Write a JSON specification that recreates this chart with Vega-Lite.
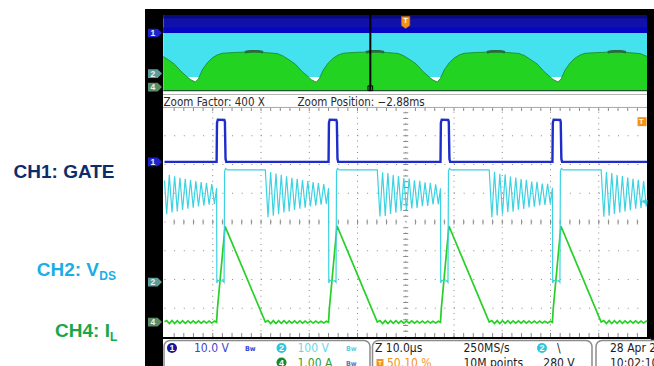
{
"$schema":"https://vega.github.io/schema/vega-lite/v6.json",
"width":654,"height":366,"padding":0,"autosize":{"type":"none"},
"background":"#ffffff",
"config":{"view":{"stroke":null},"text":{"font":"Liberation Sans Narrow, DejaVu Sans Condensed, Liberation Sans, sans-serif"}},
"resolve":{"scale":{"x":"independent","y":"independent","color":"independent","shape":"independent"}},
"datasets":{
"gate":[{"t":-50,"v":2.09},{"t":-39.2,"v":2.09},{"t":-39.12,"v":3.45},{"t":-38.95,"v":3.56},{"t":-37.6,"v":3.55},{"t":-37.48,"v":3.48},{"t":-37.35,"v":2.2},{"t":-37.2,"v":2.09},
{"t":-16.0,"v":2.09},{"t":-15.92,"v":3.45},{"t":-15.75,"v":3.56},{"t":-14.4,"v":3.55},{"t":-14.28,"v":3.48},{"t":-14.15,"v":2.2},{"t":-14.0,"v":2.09},
{"t":7.2,"v":2.09},{"t":7.28,"v":3.45},{"t":7.45,"v":3.56},{"t":8.8,"v":3.55},{"t":8.92,"v":3.48},{"t":9.05,"v":2.2},{"t":9.2,"v":2.09},
{"t":30.4,"v":2.09},{"t":30.48,"v":3.45},{"t":30.65,"v":3.56},{"t":32.0,"v":3.55},{"t":32.12,"v":3.48},{"t":32.25,"v":2.2},{"t":32.4,"v":2.09},{"t":50,"v":2.09}],
"vds":[{"t":-50,"v":1.44},{"t":-49.55,"v":0.27},{"t":-49.0,"v":1.64},{"t":-48.45,"v":0.33},{"t":-47.9,"v":1.59},{"t":-47.35,"v":0.37},{"t":-46.8,"v":1.54},{"t":-46.25,"v":0.42},{"t":-45.7,"v":1.5},{"t":-45.15,"v":0.46},{"t":-44.6,"v":1.46},{"t":-44.05,"v":0.5},{"t":-43.5,"v":1.42},{"t":-42.95,"v":0.54},{"t":-42.4,"v":1.39},{"t":-41.85,"v":0.57},{"t":-41.3,"v":1.35},{"t":-40.75,"v":0.6},{"t":-40.2,"v":1.32},{"t":-39.65,"v":0.63},{"t":-39.2,"v":1.18},
{"t":-39.15,"v":-2.12},{"t":-38.9,"v":-2.03},{"t":-38.4,"v":-2.06},{"t":-37.9,"v":-2.04},{"t":-37.65,"v":-2.1},{"t":-37.55,"v":1.76},{"t":-37.35,"v":1.86},{"t":-36.95,"v":1.81},{"t":-29.1,"v":1.81},
{"t":-28.55,"v":0.17},{"t":-28.0,"v":1.74},{"t":-27.45,"v":0.22},{"t":-26.9,"v":1.69},{"t":-26.35,"v":0.27},{"t":-25.8,"v":1.64},{"t":-25.25,"v":0.33},{"t":-24.7,"v":1.59},{"t":-24.15,"v":0.37},{"t":-23.6,"v":1.54},{"t":-23.05,"v":0.42},{"t":-22.5,"v":1.5},{"t":-21.95,"v":0.46},{"t":-21.4,"v":1.46},{"t":-20.85,"v":0.5},{"t":-20.3,"v":1.42},{"t":-19.75,"v":0.54},{"t":-19.2,"v":1.39},{"t":-18.65,"v":0.57},{"t":-18.1,"v":1.35},{"t":-17.55,"v":0.6},{"t":-17.0,"v":1.32},{"t":-16.45,"v":0.63},{"t":-16.0,"v":1.18},
{"t":-15.95,"v":-2.12},{"t":-15.7,"v":-2.03},{"t":-15.2,"v":-2.06},{"t":-14.7,"v":-2.04},{"t":-14.45,"v":-2.1},{"t":-14.35,"v":1.76},{"t":-14.15,"v":1.86},{"t":-13.75,"v":1.81},{"t":-5.9,"v":1.81},
{"t":-5.35,"v":0.19},{"t":-4.8,"v":1.73},{"t":-4.25,"v":0.21},{"t":-3.7,"v":1.7},{"t":-3.15,"v":0.28},{"t":-2.6,"v":1.63},{"t":-2.05,"v":0.32},{"t":-1.5,"v":1.6},{"t":-0.95,"v":0.38},{"t":-0.4,"v":1.53},{"t":0.15,"v":0.41},{"t":0.7,"v":1.51},{"t":1.25,"v":0.47},{"t":1.8,"v":1.45},{"t":2.35,"v":0.49},{"t":2.9,"v":1.43},{"t":3.45,"v":0.55},{"t":4.0,"v":1.38},{"t":4.55,"v":0.56},{"t":5.1,"v":1.36},{"t":5.65,"v":0.61},{"t":6.2,"v":1.31},{"t":6.75,"v":0.62},{"t":7.2,"v":1.17},
{"t":7.25,"v":-2.12},{"t":7.5,"v":-2.03},{"t":8.0,"v":-2.06},{"t":8.5,"v":-2.04},{"t":8.75,"v":-2.1},{"t":8.85,"v":1.76},{"t":9.05,"v":1.86},{"t":9.45,"v":1.81},{"t":17.3,"v":1.81},
{"t":17.85,"v":0.16},{"t":18.4,"v":1.75},{"t":18.95,"v":0.23},{"t":19.5,"v":1.68},{"t":20.05,"v":0.26},{"t":20.6,"v":1.65},{"t":21.15,"v":0.34},{"t":21.7,"v":1.58},{"t":22.25,"v":0.36},{"t":22.8,"v":1.55},{"t":23.35,"v":0.43},{"t":23.9,"v":1.49},{"t":24.45,"v":0.45},{"t":25.0,"v":1.47},{"t":25.55,"v":0.51},{"t":26.1,"v":1.41},{"t":26.65,"v":0.53},{"t":27.2,"v":1.4},{"t":27.75,"v":0.58},{"t":28.3,"v":1.34},{"t":28.85,"v":0.59},{"t":29.4,"v":1.33},{"t":29.95,"v":0.64},{"t":30.4,"v":1.19},
{"t":30.45,"v":-2.12},{"t":30.7,"v":-2.03},{"t":31.2,"v":-2.06},{"t":31.7,"v":-2.04},{"t":31.95,"v":-2.1},{"t":32.05,"v":1.76},{"t":32.25,"v":1.86},{"t":32.65,"v":1.81},{"t":40.5,"v":1.81},
{"t":41.05,"v":0.18},{"t":41.6,"v":1.74},{"t":42.15,"v":0.22},{"t":42.7,"v":1.7},{"t":43.25,"v":0.28},{"t":43.8,"v":1.63},{"t":44.35,"v":0.32},{"t":44.9,"v":1.6},{"t":45.45,"v":0.37},{"t":46.0,"v":1.55},{"t":46.55,"v":0.41},{"t":47.1,"v":1.5},{"t":47.65,"v":0.46},{"t":48.2,"v":1.47},{"t":48.75,"v":0.49},{"t":49.3,"v":1.42},{"t":49.85,"v":0.54},{"t":50.0,"v":0.77}],
"il":[{"t":-50,"v":-3.47},{"t":-49.55,"v":-3.43},{"t":-49.0,"v":-3.53},{"t":-48.45,"v":-3.43},{"t":-47.9,"v":-3.53},{"t":-47.35,"v":-3.435},{"t":-46.8,"v":-3.525},{"t":-46.25,"v":-3.435},{"t":-45.7,"v":-3.525},{"t":-45.15,"v":-3.44},{"t":-44.6,"v":-3.52},{"t":-44.05,"v":-3.44},{"t":-43.5,"v":-3.52},{"t":-42.95,"v":-3.44},{"t":-42.4,"v":-3.52},{"t":-41.85,"v":-3.445},{"t":-41.3,"v":-3.515},{"t":-40.75,"v":-3.445},{"t":-40.2,"v":-3.515},{"t":-39.65,"v":-3.445},
{"t":-39.2,"v":-3.49},{"t":-39.05,"v":-3.05},{"t":-37.45,"v":-0.15},{"t":-29.1,"v":-3.48},
{"t":-28.55,"v":-3.43},{"t":-28.0,"v":-3.53},{"t":-27.45,"v":-3.43},{"t":-26.9,"v":-3.53},{"t":-26.35,"v":-3.435},{"t":-25.8,"v":-3.525},{"t":-25.25,"v":-3.435},{"t":-24.7,"v":-3.525},{"t":-24.15,"v":-3.44},{"t":-23.6,"v":-3.52},{"t":-23.05,"v":-3.44},{"t":-22.5,"v":-3.52},{"t":-21.95,"v":-3.44},{"t":-21.4,"v":-3.52},{"t":-20.85,"v":-3.445},{"t":-20.3,"v":-3.515},{"t":-19.75,"v":-3.445},{"t":-19.2,"v":-3.515},{"t":-18.65,"v":-3.445},{"t":-18.1,"v":-3.515},{"t":-17.55,"v":-3.45},{"t":-17.0,"v":-3.51},{"t":-16.45,"v":-3.45},
{"t":-16.0,"v":-3.49},{"t":-15.85,"v":-3.05},{"t":-14.25,"v":-0.13},{"t":-5.9,"v":-3.48},
{"t":-5.35,"v":-3.43},{"t":-4.8,"v":-3.53},{"t":-4.25,"v":-3.43},{"t":-3.7,"v":-3.53},{"t":-3.15,"v":-3.435},{"t":-2.6,"v":-3.525},{"t":-2.05,"v":-3.435},{"t":-1.5,"v":-3.525},{"t":-0.95,"v":-3.44},{"t":-0.4,"v":-3.52},{"t":0.15,"v":-3.44},{"t":0.7,"v":-3.52},{"t":1.25,"v":-3.44},{"t":1.8,"v":-3.52},{"t":2.35,"v":-3.445},{"t":2.9,"v":-3.515},{"t":3.45,"v":-3.445},{"t":4.0,"v":-3.515},{"t":4.55,"v":-3.445},{"t":5.1,"v":-3.515},{"t":5.65,"v":-3.45},{"t":6.2,"v":-3.51},{"t":6.75,"v":-3.45},
{"t":7.2,"v":-3.49},{"t":7.35,"v":-3.05},{"t":8.95,"v":-0.14},{"t":17.3,"v":-3.48},
{"t":17.85,"v":-3.43},{"t":18.4,"v":-3.53},{"t":18.95,"v":-3.43},{"t":19.5,"v":-3.53},{"t":20.05,"v":-3.435},{"t":20.6,"v":-3.525},{"t":21.15,"v":-3.435},{"t":21.7,"v":-3.525},{"t":22.25,"v":-3.44},{"t":22.8,"v":-3.52},{"t":23.35,"v":-3.44},{"t":23.9,"v":-3.52},{"t":24.45,"v":-3.44},{"t":25.0,"v":-3.52},{"t":25.55,"v":-3.445},{"t":26.1,"v":-3.515},{"t":26.65,"v":-3.445},{"t":27.2,"v":-3.515},{"t":27.75,"v":-3.445},{"t":28.3,"v":-3.515},{"t":28.85,"v":-3.45},{"t":29.4,"v":-3.51},{"t":29.95,"v":-3.45},
{"t":30.4,"v":-3.49},{"t":30.55,"v":-3.05},{"t":32.15,"v":-0.14},{"t":40.5,"v":-3.48},
{"t":41.05,"v":-3.43},{"t":41.6,"v":-3.53},{"t":42.15,"v":-3.43},{"t":42.7,"v":-3.53},{"t":43.25,"v":-3.435},{"t":43.8,"v":-3.525},{"t":44.35,"v":-3.435},{"t":44.9,"v":-3.525},{"t":45.45,"v":-3.44},{"t":46.0,"v":-3.52},{"t":46.55,"v":-3.44},{"t":47.1,"v":-3.52},{"t":47.65,"v":-3.44},{"t":48.2,"v":-3.52},{"t":48.75,"v":-3.445},{"t":49.3,"v":-3.515},{"t":49.85,"v":-3.445},{"t":50,"v":-3.47}],
"ovIL":[{"ms":-20,"top":-0.34},{"ms":-19.57,"top":-0.68},{"ms":-19.08,"top":-1.12},{"ms":-18.5,"top":-1.9},{"ms":-18.09,"top":-2.36},{"ms":-17.76,"top":-2.7},{"ms":-17.35,"top":-2.97},{"ms":-17.1,"top":-2.64},{"ms":-16.77,"top":-1.7},{"ms":-16.36,"top":-0.98},{"ms":-15.94,"top":-0.47},{"ms":-15.53,"top":-0.16},{"ms":-15.12,"top":0.0},{"ms":-14.04,"top":0.09},{"ms":-12.8,"top":0.14},{"ms":-11.56,"top":0.07},{"ms":-10.57,"top":-0.03},{"ms":-10.07,"top":-0.3},{"ms":-9.57,"top":-0.7},{"ms":-9.08,"top":-1.12},{"ms":-8.5,"top":-1.9},{"ms":-8.09,"top":-2.33},{"ms":-7.76,"top":-2.72},
{"ms":-7.35,"top":-2.98},{"ms":-7.1,"top":-2.62},{"ms":-6.77,"top":-1.73},{"ms":-6.36,"top":-1.0},{"ms":-5.94,"top":-0.5},{"ms":-5.53,"top":-0.17},{"ms":-5.12,"top":0.01},{"ms":-4.04,"top":0.1},{"ms":-2.8,"top":0.14},{"ms":-1.56,"top":0.08},{"ms":-0.57,"top":-0.02},{"ms":-0.07,"top":-0.29},{"ms":0.43,"top":-0.69},{"ms":0.92,"top":-1.11},{"ms":1.5,"top":-1.91},{"ms":1.91,"top":-2.35},{"ms":2.24,"top":-2.71},
{"ms":2.65,"top":-2.96},{"ms":2.9,"top":-2.63},{"ms":3.23,"top":-1.71},{"ms":3.64,"top":-0.99},{"ms":4.06,"top":-0.48},{"ms":4.47,"top":-0.17},{"ms":4.88,"top":0.0},{"ms":5.96,"top":0.09},{"ms":7.2,"top":0.13},{"ms":8.44,"top":0.08},{"ms":9.43,"top":-0.02},{"ms":9.93,"top":-0.28},{"ms":10.43,"top":-0.7},{"ms":10.92,"top":-1.1},{"ms":11.5,"top":-1.89},{"ms":11.91,"top":-2.34},{"ms":12.24,"top":-2.7},
{"ms":12.65,"top":-2.97},{"ms":12.9,"top":-2.64},{"ms":13.23,"top":-1.72},{"ms":13.64,"top":-1.0},{"ms":14.06,"top":-0.49},{"ms":14.47,"top":-0.18},{"ms":14.88,"top":0.0},{"ms":15.96,"top":0.08},{"ms":17.2,"top":0.13},{"ms":18.44,"top":0.07},{"ms":19.43,"top":-0.03},{"ms":19.93,"top":-0.29},{"ms":20,"top":-0.34}],
"crest":[{"hump":1,"ms":-13.25,"v":0.1},{"hump":1,"ms":-12.8,"v":0.2},{"hump":1,"ms":-12.2,"v":0.21},{"hump":1,"ms":-11.75,"v":0.1},
{"hump":2,"ms":-3.25,"v":0.1},{"hump":2,"ms":-2.8,"v":0.2},{"hump":2,"ms":-2.2,"v":0.21},{"hump":2,"ms":-1.75,"v":0.1},
{"hump":3,"ms":6.75,"v":0.1},{"hump":3,"ms":7.2,"v":0.2},{"hump":3,"ms":7.8,"v":0.21},{"hump":3,"ms":8.25,"v":0.1},
{"hump":4,"ms":16.75,"v":0.1},{"hump":4,"ms":17.2,"v":0.2},{"hump":4,"ms":17.8,"v":0.21},{"hump":4,"ms":18.25,"v":0.1}],
"divT":[{"t":-40},{"t":-30},{"t":-20},{"t":-10},{"t":0},{"t":10},{"t":20},{"t":30},{"t":40}],
"divV":[{"v":-3},{"v":-2},{"v":-1},{"v":0},{"v":1},{"v":2},{"v":3}],
"tickT":[{"t":-48},{"t":-46},{"t":-44},{"t":-42},{"t":-40},{"t":-38},{"t":-36},{"t":-34},{"t":-32},{"t":-30},{"t":-28},{"t":-26},{"t":-24},{"t":-22},{"t":-20},{"t":-18},{"t":-16},{"t":-14},{"t":-12},{"t":-10},{"t":-8},{"t":-6},{"t":-4},{"t":-2},{"t":2},{"t":4},{"t":6},{"t":8},{"t":10},{"t":12},{"t":14},{"t":16},{"t":18},{"t":20},{"t":22},{"t":24},{"t":26},{"t":28},{"t":30},{"t":32},{"t":34},{"t":36},{"t":38},{"t":40},{"t":42},{"t":44},{"t":46},{"t":48}],
"tickV":[{"v":-3.8},{"v":-3.6},{"v":-3.4},{"v":-3.2},{"v":-3.0},{"v":-2.8},{"v":-2.6},{"v":-2.4},{"v":-2.2},{"v":-2.0},{"v":-1.8},{"v":-1.6},{"v":-1.4},{"v":-1.2},{"v":-1.0},{"v":-0.8},{"v":-0.6},{"v":-0.4},{"v":-0.2},{"v":0.2},{"v":0.4},{"v":0.6},{"v":0.8},{"v":1.0},{"v":1.2},{"v":1.4},{"v":1.6},{"v":1.8},{"v":2.0},{"v":2.2},{"v":2.4},{"v":2.6},{"v":2.8},{"v":3.0},{"v":3.2},{"v":3.4},{"v":3.6},{"v":3.8}],
"chan":[{"ch":"1","lvl":2.09},{"ch":"2","lvl":-2.09},{"ch":"4","lvl":-3.48}]
},
"layer":[
{"data":{"values":[{}]},"mark":{"type":"rect","fill":"#000000"},"encoding":{"x":{"datum":-54.04,"type":"quantitative","scale":{"domain":[-50,50],"range":[164.5,647],"nice":false,"zero":false},"axis":null},"x2":{"datum":51.6},"y":{"datum":-5.2,"type":"quantitative","scale":{"domain":[-4,4],"range":[337,107],"nice":false,"zero":false},"axis":null},"y2":{"datum":7.41}}},
{"data":{"values":[{}]},"mark":{"type":"rect","fill":"#ffffff"},"encoding":{"x":{"datum":-50.31,"type":"quantitative","scale":{"domain":[-50,50],"range":[164.5,647],"nice":false,"zero":false},"axis":null},"x2":{"datum":50.0},"y":{"datum":-4.0,"type":"quantitative","scale":{"domain":[-4,4],"range":[337,107],"nice":false,"zero":false},"axis":null},"y2":{"datum":7.2}}},
{"data":{"values":[{}]},"mark":{"type":"rect","fill":"#ffffff"},"encoding":{"x":{"datum":-50.31,"type":"quantitative","scale":{"domain":[-50,50],"range":[164.5,647],"nice":false,"zero":false},"axis":null},"x2":{"datum":50.8},"y":{"datum":-5.2,"type":"quantitative","scale":{"domain":[-4,4],"range":[337,107],"nice":false,"zero":false},"axis":null},"y2":{"datum":-4.0}}},

{"data":{"values":[{}]},"mark":{"type":"rect","fill":"#1010aa"},"encoding":{"x":{"datum":-20,"type":"quantitative","scale":{"domain":[-20,20],"range":[163.3,647],"nice":false,"zero":false},"axis":null},"x2":{"datum":20},"y":{"datum":2.08,"type":"quantitative","scale":{"domain":[-4,4],"range":[92.1,14.5],"nice":false,"zero":false},"axis":null},"y2":{"datum":3.95}}},
{"data":{"values":[{}]},"mark":{"type":"rect","fill":"#0a0a80"},"encoding":{"x":{"datum":-20,"type":"quantitative","scale":{"domain":[-20,20],"range":[163.3,647],"nice":false,"zero":false},"axis":null},"x2":{"datum":20},"y":{"datum":3.6,"type":"quantitative","scale":{"domain":[-4,4],"range":[92.1,14.5],"nice":false,"zero":false},"axis":null},"y2":{"datum":3.95}}},
{"data":{"values":[{}]},"mark":{"type":"rect","fill":"#0404c2"},"encoding":{"x":{"datum":-20,"type":"quantitative","scale":{"domain":[-20,20],"range":[163.3,647],"nice":false,"zero":false},"axis":null},"x2":{"datum":20},"y":{"datum":2.08,"type":"quantitative","scale":{"domain":[-4,4],"range":[92.1,14.5],"nice":false,"zero":false},"axis":null},"y2":{"datum":2.65}}},
{"data":{"values":[{}]},"mark":{"type":"rect","fill":"#44e1ef"},"encoding":{"x":{"datum":-20,"type":"quantitative","scale":{"domain":[-20,20],"range":[163.3,647],"nice":false,"zero":false},"axis":null},"x2":{"datum":20},"y":{"datum":-2.45,"type":"quantitative","scale":{"domain":[-4,4],"range":[92.1,14.5],"nice":false,"zero":false},"axis":null},"y2":{"datum":2.09}}},
{"data":{"name":"ovIL"},"mark":{"type":"area","color":"#22d322","opacity":1},"encoding":{"x":{"field":"ms","type":"quantitative","scale":{"domain":[-20,20],"range":[163.3,647],"nice":false,"zero":false},"axis":null},"y":{"field":"top","type":"quantitative","scale":{"domain":[-4,4],"range":[92.1,14.5],"nice":false,"zero":false},"axis":null},"y2":{"datum":-3.85}}},
{"data":{"name":"ovIL"},"mark":{"type":"line","color":"#1a8f2e","strokeWidth":0.9},"encoding":{"x":{"field":"ms","type":"quantitative","scale":{"domain":[-20,20],"range":[163.3,647],"nice":false,"zero":false},"axis":null},"y":{"field":"top","type":"quantitative","scale":{"domain":[-4,4],"range":[92.1,14.5],"nice":false,"zero":false},"axis":null}}},
{"data":{"name":"crest"},"mark":{"type":"line","color":"#2a6b3e","strokeWidth":2.6,"interpolate":"monotone"},"encoding":{"x":{"field":"ms","type":"quantitative","scale":{"domain":[-20,20],"range":[163.3,647],"nice":false,"zero":false},"axis":null},"y":{"field":"v","type":"quantitative","scale":{"domain":[-4,4],"range":[92.1,14.5],"nice":false,"zero":false},"axis":null},"detail":{"field":"hump","type":"nominal"}}},
{"data":{"values":[{}]},"mark":{"type":"rule","color":"#1d5a2c","strokeWidth":1.3},"encoding":{"x":{"datum":-20,"type":"quantitative","scale":{"domain":[-20,20],"range":[163.3,647],"nice":false,"zero":false},"axis":null},"x2":{"datum":20},"y":{"datum":-3.85,"type":"quantitative","scale":{"domain":[-4,4],"range":[92.1,14.5],"nice":false,"zero":false},"axis":null}}},
{"data":{"values":[{}]},"mark":{"type":"rule","color":"#000000","strokeWidth":2},"encoding":{"x":{"datum":-2.88,"type":"quantitative","scale":{"domain":[-20,20],"range":[163.3,647],"nice":false,"zero":false},"axis":null},"y":{"datum":-3.9,"type":"quantitative","scale":{"domain":[-4,4],"range":[92.1,14.5],"nice":false,"zero":false},"axis":null},"y2":{"datum":3.95}}},
{"data":{"values":[{}]},"mark":{"type":"point","shape":"square","size":22,"filled":false,"stroke":"#000000","strokeWidth":1,"opacity":1},"encoding":{"x":{"datum":-2.88,"type":"quantitative","scale":{"domain":[-20,20],"range":[163.3,647],"nice":false,"zero":false},"axis":null},"y":{"datum":-3.6,"type":"quantitative","scale":{"domain":[-4,4],"range":[92.1,14.5],"nice":false,"zero":false},"axis":null}}},
{"data":{"values":[{}]},"mark":{"type":"point","shape":"M-0.7,-1L0.7,-1L0.7,0.5L0,1L-0.7,0.5Z","size":144,"filled":true,"fill":"#f29418","stroke":"#b86a00","strokeWidth":0.6,"opacity":1},"encoding":{"x":{"datum":0.04,"type":"quantitative","scale":{"domain":[-20,20],"range":[163.3,647],"nice":false,"zero":false},"axis":null},"y":{"datum":3.18,"type":"quantitative","scale":{"domain":[-4,4],"range":[92.1,14.5],"nice":false,"zero":false},"axis":null}}},
{"data":{"values":[{}]},"mark":{"type":"text","text":"T","fontSize":7,"fontWeight":"bold","color":"#ffffff","align":"center","baseline":"middle","font":"Liberation Sans"},"encoding":{"x":{"datum":0.04,"type":"quantitative","scale":{"domain":[-20,20],"range":[163.3,647],"nice":false,"zero":false},"axis":null},"y":{"datum":3.3,"type":"quantitative","scale":{"domain":[-4,4],"range":[92.1,14.5],"nice":false,"zero":false},"axis":null}}},
{"data":{"name":"chan"},"mark":{"type":"point","shape":"M-1,-0.62L0.38,-0.62L1,0L0.38,0.62L-1,0.62Z","size":196,"filled":true,"opacity":1},"encoding":{"x":{"datum":-51.97,"type":"quantitative","scale":{"domain":[-50,50],"range":[164.5,647],"nice":false,"zero":false},"axis":null},"y":{"field":"lvl","type":"quantitative","scale":{"domain":[-4,4],"range":[92.1,14.5],"nice":false,"zero":false},"axis":null},"color":{"field":"ch","type":"nominal","scale":{"domain":["1","2","4"],"range":["#2222cc","#5e9c9a","#5a8c68"]},"legend":null}}},
{"data":{"name":"chan"},"mark":{"type":"text","fontSize":8.5,"fontWeight":"bold","color":"#e8f0ee","align":"center","baseline":"middle","font":"Liberation Sans"},"encoding":{"x":{"datum":-52.4,"type":"quantitative","scale":{"domain":[-50,50],"range":[164.5,647],"nice":false,"zero":false},"axis":null},"y":{"field":"lvl","type":"quantitative","scale":{"domain":[-4,4],"range":[92.1,14.5],"nice":false,"zero":false},"axis":null},"text":{"field":"ch"}}},

{"data":{"values":[{}]},"mark":{"type":"rule","color":"#b4b4b4","strokeWidth":1},"encoding":{"x":{"datum":-50.31,"type":"quantitative","scale":{"domain":[-50,50],"range":[164.5,647],"nice":false,"zero":false},"axis":null},"x2":{"datum":50},"y":{"datum":4.435,"type":"quantitative","scale":{"domain":[-4,4],"range":[337,107],"nice":false,"zero":false},"axis":null}}},
{"data":{"values":[{}]},"mark":{"type":"text","text":"Zoom Factor: 400 X","fontSize":11.5,"color":"#2a2a2a","align":"left","baseline":"alphabetic"},"encoding":{"x":{"datum":-50.2,"type":"quantitative","scale":{"domain":[-50,50],"range":[164.5,647],"nice":false,"zero":false},"axis":null},"y":{"datum":4.05,"type":"quantitative","scale":{"domain":[-4,4],"range":[337,107],"nice":false,"zero":false},"axis":null}}},
{"data":{"values":[{}]},"mark":{"type":"text","text":"Zoom Position: \u22122.88ms","fontSize":11.5,"color":"#2a2a2a","align":"left","baseline":"alphabetic"},"encoding":{"x":{"datum":-22.44,"type":"quantitative","scale":{"domain":[-50,50],"range":[164.5,647],"nice":false,"zero":false},"axis":null},"y":{"datum":4.05,"type":"quantitative","scale":{"domain":[-4,4],"range":[337,107],"nice":false,"zero":false},"axis":null}}},

{"data":{"name":"divT"},"mark":{"type":"rule","color":"#8a8a8a","strokeWidth":1,"strokeDash":[1,4.75]},"encoding":{"x":{"field":"t","type":"quantitative","scale":{"domain":[-50,50],"range":[164.5,647],"nice":false,"zero":false},"axis":null},"y":{"datum":-4,"type":"quantitative","scale":{"domain":[-4,4],"range":[337,107],"nice":false,"zero":false},"axis":null},"y2":{"datum":4}}},
{"data":{"name":"divV"},"mark":{"type":"rule","color":"#8a8a8a","strokeWidth":1,"strokeDash":[1,8.65]},"encoding":{"x":{"datum":-50,"type":"quantitative","scale":{"domain":[-50,50],"range":[164.5,647],"nice":false,"zero":false},"axis":null},"x2":{"datum":50},"y":{"field":"v","type":"quantitative","scale":{"domain":[-4,4],"range":[337,107],"nice":false,"zero":false},"axis":null}}},
{"data":{"name":"tickT"},"mark":{"type":"tick","orient":"vertical","size":5,"thickness":1,"color":"#8a8a8a","opacity":1},"encoding":{"x":{"field":"t","type":"quantitative","scale":{"domain":[-50,50],"range":[164.5,647],"nice":false,"zero":false},"axis":null},"y":{"datum":0,"type":"quantitative","scale":{"domain":[-4,4],"range":[337,107],"nice":false,"zero":false},"axis":null}}},
{"data":{"name":"tickT"},"mark":{"type":"tick","orient":"vertical","size":4,"thickness":1,"color":"#8a8a8a","opacity":1},"encoding":{"x":{"field":"t","type":"quantitative","scale":{"domain":[-50,50],"range":[164.5,647],"nice":false,"zero":false},"axis":null},"y":{"datum":3.93,"type":"quantitative","scale":{"domain":[-4,4],"range":[337,107],"nice":false,"zero":false},"axis":null}}},
{"data":{"name":"tickT"},"mark":{"type":"tick","orient":"vertical","size":4,"thickness":1,"color":"#8a8a8a","opacity":1},"encoding":{"x":{"field":"t","type":"quantitative","scale":{"domain":[-50,50],"range":[164.5,647],"nice":false,"zero":false},"axis":null},"y":{"datum":-3.93,"type":"quantitative","scale":{"domain":[-4,4],"range":[337,107],"nice":false,"zero":false},"axis":null}}},
{"data":{"name":"tickV"},"mark":{"type":"tick","orient":"horizontal","size":5,"thickness":1,"color":"#8a8a8a","opacity":1},"encoding":{"x":{"datum":0,"type":"quantitative","scale":{"domain":[-50,50],"range":[164.5,647],"nice":false,"zero":false},"axis":null},"y":{"field":"v","type":"quantitative","scale":{"domain":[-4,4],"range":[337,107],"nice":false,"zero":false},"axis":null}}},
{"data":{"values":[{}]},"mark":{"type":"rule","color":"#a8a8a8","strokeWidth":1},"encoding":{"x":{"datum":-50.31,"type":"quantitative","scale":{"domain":[-50,50],"range":[164.5,647],"nice":false,"zero":false},"axis":null},"x2":{"datum":50},"y":{"datum":3.985,"type":"quantitative","scale":{"domain":[-4,4],"range":[337,107],"nice":false,"zero":false},"axis":null}}},
{"data":{"values":[{}]},"mark":{"type":"rule","color":"#000000","strokeWidth":2},"encoding":{"x":{"datum":-50.31,"type":"quantitative","scale":{"domain":[-50,50],"range":[164.5,647],"nice":false,"zero":false},"axis":null},"x2":{"datum":50.8},"y":{"datum":-4.035,"type":"quantitative","scale":{"domain":[-4,4],"range":[337,107],"nice":false,"zero":false},"axis":null}}},

{"data":{"name":"il"},"mark":{"type":"line","color":"#26d026","strokeWidth":1.7},"encoding":{"x":{"field":"t","type":"quantitative","scale":{"domain":[-50,50],"range":[164.5,647],"nice":false,"zero":false},"axis":null},"y":{"field":"v","type":"quantitative","scale":{"domain":[-4,4],"range":[337,107],"nice":false,"zero":false},"axis":null}}},
{"data":{"name":"vds"},"mark":{"type":"line","color":"#3cd2e2","strokeWidth":1.2},"encoding":{"x":{"field":"t","type":"quantitative","scale":{"domain":[-50,50],"range":[164.5,647],"nice":false,"zero":false},"axis":null},"y":{"field":"v","type":"quantitative","scale":{"domain":[-4,4],"range":[337,107],"nice":false,"zero":false},"axis":null}}},
{"data":{"name":"gate"},"mark":{"type":"line","color":"#1e2ccc","strokeWidth":2.4},"encoding":{"x":{"field":"t","type":"quantitative","scale":{"domain":[-50,50],"range":[164.5,647],"nice":false,"zero":false},"axis":null},"y":{"field":"v","type":"quantitative","scale":{"domain":[-4,4],"range":[337,107],"nice":false,"zero":false},"axis":null}}},

{"data":{"name":"chan"},"mark":{"type":"point","shape":"M-1,-0.62L0.38,-0.62L1,0L0.38,0.62L-1,0.62Z","size":196,"filled":true,"opacity":1},"encoding":{"x":{"datum":-51.97,"type":"quantitative","scale":{"domain":[-50,50],"range":[164.5,647],"nice":false,"zero":false},"axis":null},"y":{"field":"lvl","type":"quantitative","scale":{"domain":[-4,4],"range":[337,107],"nice":false,"zero":false},"axis":null},"color":{"field":"ch","type":"nominal","scale":{"domain":["1","2","4"],"range":["#2222cc","#5e9c9a","#5a8c68"]},"legend":null}}},
{"data":{"name":"chan"},"mark":{"type":"text","fontSize":8.5,"fontWeight":"bold","color":"#e8f0ee","align":"center","baseline":"middle","font":"Liberation Sans"},"encoding":{"x":{"datum":-52.4,"type":"quantitative","scale":{"domain":[-50,50],"range":[164.5,647],"nice":false,"zero":false},"axis":null},"y":{"field":"lvl","type":"quantitative","scale":{"domain":[-4,4],"range":[337,107],"nice":false,"zero":false},"axis":null},"text":{"field":"ch"}}},
{"data":{"values":[{}]},"mark":{"type":"point","shape":"square","size":81,"filled":true,"fill":"#f29418","opacity":1},"encoding":{"x":{"datum":48.97,"type":"quantitative","scale":{"domain":[-50,50],"range":[164.5,647],"nice":false,"zero":false},"axis":null},"y":{"datum":3.49,"type":"quantitative","scale":{"domain":[-4,4],"range":[337,107],"nice":false,"zero":false},"axis":null}}},
{"data":{"values":[{}]},"mark":{"type":"text","text":"T","fontSize":7.5,"fontWeight":"bold","color":"#ffffff","align":"center","baseline":"middle","font":"Liberation Sans"},"encoding":{"x":{"datum":48.8,"type":"quantitative","scale":{"domain":[-50,50],"range":[164.5,647],"nice":false,"zero":false},"axis":null},"y":{"datum":3.49,"type":"quantitative","scale":{"domain":[-4,4],"range":[337,107],"nice":false,"zero":false},"axis":null}}},
{"data":{"values":[{}]},"mark":{"type":"point","shape":"triangle-left","size":30,"filled":true,"fill":"#3cd2e2","opacity":1},"encoding":{"x":{"datum":49.3,"type":"quantitative","scale":{"domain":[-50,50],"range":[164.5,647],"nice":false,"zero":false},"axis":null},"y":{"datum":0.71,"type":"quantitative","scale":{"domain":[-4,4],"range":[337,107],"nice":false,"zero":false},"axis":null}}},

{"data":{"values":[{}]},"mark":{"type":"rect","fill":"#ffffff","stroke":"#8c8c8c","strokeWidth":1.5,"cornerRadius":6},"encoding":{"x":{"datum":-50.1,"type":"quantitative","scale":{"domain":[-50,50],"range":[164.5,647],"nice":false,"zero":false},"axis":null},"x2":{"datum":-7.41},"y":{"datum":-5.3,"type":"quantitative","scale":{"domain":[-4,4],"range":[337,107],"nice":false,"zero":false},"axis":null},"y2":{"datum":-4.122}}},
{"data":{"values":[{}]},"mark":{"type":"rect","fill":"#ffffff","stroke":"#8c8c8c","strokeWidth":1.5,"cornerRadius":6},"encoding":{"x":{"datum":-6.89,"type":"quantitative","scale":{"domain":[-50,50],"range":[164.5,647],"nice":false,"zero":false},"axis":null},"x2":{"datum":38.6},"y":{"datum":-5.3,"type":"quantitative","scale":{"domain":[-4,4],"range":[337,107],"nice":false,"zero":false},"axis":null},"y2":{"datum":-4.122}}},
{"data":{"values":[{}]},"mark":{"type":"rect","fill":"#ffffff","stroke":"#8c8c8c","strokeWidth":1.5,"cornerRadius":6},"encoding":{"x":{"datum":39.43,"type":"quantitative","scale":{"domain":[-50,50],"range":[164.5,647],"nice":false,"zero":false},"axis":null},"x2":{"datum":62},"y":{"datum":-5.3,"type":"quantitative","scale":{"domain":[-4,4],"range":[337,107],"nice":false,"zero":false},"axis":null},"y2":{"datum":-4.122}}},
{"data":{"values":[{}]},"mark":{"type":"point","shape":"circle","size":100,"filled":true,"fill":"#1515a0","opacity":1},"encoding":{"x":{"datum":-48.45,"type":"quantitative","scale":{"domain":[-50,50],"range":[164.5,647],"nice":false,"zero":false},"axis":null},"y":{"datum":-4.383,"type":"quantitative","scale":{"domain":[-4,4],"range":[337,107],"nice":false,"zero":false},"axis":null}}},
{"data":{"values":[{}]},"mark":{"type":"point","shape":"circle","size":100,"filled":true,"fill":"#2cc6da","opacity":1},"encoding":{"x":{"datum":-25.75,"type":"quantitative","scale":{"domain":[-50,50],"range":[164.5,647],"nice":false,"zero":false},"axis":null},"y":{"datum":-4.383,"type":"quantitative","scale":{"domain":[-4,4],"range":[337,107],"nice":false,"zero":false},"axis":null}}},
{"data":{"values":[{}]},"mark":{"type":"point","shape":"circle","size":100,"filled":true,"fill":"#168a2a","opacity":1},"encoding":{"x":{"datum":-25.75,"type":"quantitative","scale":{"domain":[-50,50],"range":[164.5,647],"nice":false,"zero":false},"axis":null},"y":{"datum":-4.887,"type":"quantitative","scale":{"domain":[-4,4],"range":[337,107],"nice":false,"zero":false},"axis":null}}},
{"data":{"values":[{}]},"mark":{"type":"point","shape":"circle","size":100,"filled":true,"fill":"#2cc6da","opacity":1},"encoding":{"x":{"datum":28.24,"type":"quantitative","scale":{"domain":[-50,50],"range":[164.5,647],"nice":false,"zero":false},"axis":null},"y":{"datum":-4.383,"type":"quantitative","scale":{"domain":[-4,4],"range":[337,107],"nice":false,"zero":false},"axis":null}}},
{"data":{"values":[{}]},"mark":{"type":"point","shape":"square","size":49,"filled":true,"fill":"#f29418","opacity":1},"encoding":{"x":{"datum":-5.34,"type":"quantitative","scale":{"domain":[-50,50],"range":[164.5,647],"nice":false,"zero":false},"axis":null},"y":{"datum":-4.887,"type":"quantitative","scale":{"domain":[-4,4],"range":[337,107],"nice":false,"zero":false},"axis":null}}},
{"data":{"values":[{}]},"mark":{"type":"text","text":"1","fontSize":9,"fontWeight":"bold","color":"#ffffff","align":"center","baseline":"middle","font":"Liberation Sans"},"encoding":{"x":{"datum":-48.45,"type":"quantitative","scale":{"domain":[-50,50],"range":[164.5,647],"nice":false,"zero":false},"axis":null},"y":{"datum":-4.383,"type":"quantitative","scale":{"domain":[-4,4],"range":[337,107],"nice":false,"zero":false},"axis":null}}},
{"data":{"values":[{}]},"mark":{"type":"text","text":"2","fontSize":9,"fontWeight":"bold","color":"#ffffff","align":"center","baseline":"middle","font":"Liberation Sans"},"encoding":{"x":{"datum":-25.75,"type":"quantitative","scale":{"domain":[-50,50],"range":[164.5,647],"nice":false,"zero":false},"axis":null},"y":{"datum":-4.383,"type":"quantitative","scale":{"domain":[-4,4],"range":[337,107],"nice":false,"zero":false},"axis":null}}},
{"data":{"values":[{}]},"mark":{"type":"text","text":"4","fontSize":9,"fontWeight":"bold","color":"#ffffff","align":"center","baseline":"middle","font":"Liberation Sans"},"encoding":{"x":{"datum":-25.75,"type":"quantitative","scale":{"domain":[-50,50],"range":[164.5,647],"nice":false,"zero":false},"axis":null},"y":{"datum":-4.887,"type":"quantitative","scale":{"domain":[-4,4],"range":[337,107],"nice":false,"zero":false},"axis":null}}},
{"data":{"values":[{}]},"mark":{"type":"text","text":"2","fontSize":9,"fontWeight":"bold","color":"#ffffff","align":"center","baseline":"middle","font":"Liberation Sans"},"encoding":{"x":{"datum":28.24,"type":"quantitative","scale":{"domain":[-50,50],"range":[164.5,647],"nice":false,"zero":false},"axis":null},"y":{"datum":-4.383,"type":"quantitative","scale":{"domain":[-4,4],"range":[337,107],"nice":false,"zero":false},"axis":null}}},
{"data":{"values":[{}]},"mark":{"type":"text","text":"T","fontSize":6,"fontWeight":"bold","color":"#ffffff","align":"center","baseline":"middle","font":"Liberation Sans"},"encoding":{"x":{"datum":-5.34,"type":"quantitative","scale":{"domain":[-50,50],"range":[164.5,647],"nice":false,"zero":false},"axis":null},"y":{"datum":-4.887,"type":"quantitative","scale":{"domain":[-4,4],"range":[337,107],"nice":false,"zero":false},"axis":null}}},
{"data":{"values":[{}]},"mark":{"type":"text","text":"10.0 V","fontSize":12,"color":"#3b45d6","align":"left","baseline":"alphabetic"},"encoding":{"x":{"datum":-43.89,"type":"quantitative","scale":{"domain":[-50,50],"range":[164.5,647],"nice":false,"zero":false},"axis":null},"y":{"datum":-4.539,"type":"quantitative","scale":{"domain":[-4,4],"range":[337,107],"nice":false,"zero":false},"axis":null}}},
{"data":{"values":[{}]},"mark":{"type":"text","text":"Bw","fontSize":7,"fontWeight":"bold","color":"#3b45d6","align":"left","baseline":"alphabetic"},"encoding":{"x":{"datum":-33.32,"type":"quantitative","scale":{"domain":[-50,50],"range":[164.5,647],"nice":false,"zero":false},"axis":null},"y":{"datum":-4.5,"type":"quantitative","scale":{"domain":[-4,4],"range":[337,107],"nice":false,"zero":false},"axis":null}}},
{"data":{"values":[{}]},"mark":{"type":"text","text":"100 V","fontSize":12,"color":"#68d8e6","align":"left","baseline":"alphabetic"},"encoding":{"x":{"datum":-22.44,"type":"quantitative","scale":{"domain":[-50,50],"range":[164.5,647],"nice":false,"zero":false},"axis":null},"y":{"datum":-4.539,"type":"quantitative","scale":{"domain":[-4,4],"range":[337,107],"nice":false,"zero":false},"axis":null}}},
{"data":{"values":[{}]},"mark":{"type":"text","text":"Bw","fontSize":7,"fontWeight":"bold","color":"#5fcfe0","align":"left","baseline":"alphabetic"},"encoding":{"x":{"datum":-12.38,"type":"quantitative","scale":{"domain":[-50,50],"range":[164.5,647],"nice":false,"zero":false},"axis":null},"y":{"datum":-4.5,"type":"quantitative","scale":{"domain":[-4,4],"range":[337,107],"nice":false,"zero":false},"axis":null}}},
{"data":{"values":[{}]},"mark":{"type":"text","text":"1.00 A","fontSize":12,"color":"#2c9e35","align":"left","baseline":"alphabetic"},"encoding":{"x":{"datum":-22.44,"type":"quantitative","scale":{"domain":[-50,50],"range":[164.5,647],"nice":false,"zero":false},"axis":null},"y":{"datum":-5.043,"type":"quantitative","scale":{"domain":[-4,4],"range":[337,107],"nice":false,"zero":false},"axis":null}}},
{"data":{"values":[{}]},"mark":{"type":"text","text":"Bw","fontSize":7,"fontWeight":"bold","color":"#5a78c8","align":"left","baseline":"alphabetic"},"encoding":{"x":{"datum":-12.38,"type":"quantitative","scale":{"domain":[-50,50],"range":[164.5,647],"nice":false,"zero":false},"axis":null},"y":{"datum":-5.0,"type":"quantitative","scale":{"domain":[-4,4],"range":[337,107],"nice":false,"zero":false},"axis":null}}},
{"data":{"values":[{}]},"mark":{"type":"text","text":"Z 10.0\u00b5s","fontSize":12,"color":"#1c1c1c","align":"left","baseline":"alphabetic"},"encoding":{"x":{"datum":-6.37,"type":"quantitative","scale":{"domain":[-50,50],"range":[164.5,647],"nice":false,"zero":false},"axis":null},"y":{"datum":-4.539,"type":"quantitative","scale":{"domain":[-4,4],"range":[337,107],"nice":false,"zero":false},"axis":null}}},
{"data":{"values":[{}]},"mark":{"type":"text","text":"50.10 %","fontSize":12,"color":"#f29418","align":"left","baseline":"alphabetic"},"encoding":{"x":{"datum":-3.89,"type":"quantitative","scale":{"domain":[-50,50],"range":[164.5,647],"nice":false,"zero":false},"axis":null},"y":{"datum":-5.043,"type":"quantitative","scale":{"domain":[-4,4],"range":[337,107],"nice":false,"zero":false},"axis":null}}},
{"data":{"values":[{}]},"mark":{"type":"text","text":"250MS/s","fontSize":12,"color":"#1c1c1c","align":"left","baseline":"alphabetic"},"encoding":{"x":{"datum":11.97,"type":"quantitative","scale":{"domain":[-50,50],"range":[164.5,647],"nice":false,"zero":false},"axis":null},"y":{"datum":-4.539,"type":"quantitative","scale":{"domain":[-4,4],"range":[337,107],"nice":false,"zero":false},"axis":null}}},
{"data":{"values":[{}]},"mark":{"type":"text","text":"10M points","fontSize":12,"color":"#1c1c1c","align":"left","baseline":"alphabetic"},"encoding":{"x":{"datum":11.97,"type":"quantitative","scale":{"domain":[-50,50],"range":[164.5,647],"nice":false,"zero":false},"axis":null},"y":{"datum":-5.043,"type":"quantitative","scale":{"domain":[-4,4],"range":[337,107],"nice":false,"zero":false},"axis":null}}},
{"data":{"values":[{}]},"mark":{"type":"text","text":"\\","fontSize":12,"color":"#1c1c1c","align":"left","baseline":"alphabetic"},"encoding":{"x":{"datum":31.35,"type":"quantitative","scale":{"domain":[-50,50],"range":[164.5,647],"nice":false,"zero":false},"axis":null},"y":{"datum":-4.539,"type":"quantitative","scale":{"domain":[-4,4],"range":[337,107],"nice":false,"zero":false},"axis":null}}},
{"data":{"values":[{}]},"mark":{"type":"text","text":"280 V","fontSize":12,"color":"#1c1c1c","align":"left","baseline":"alphabetic"},"encoding":{"x":{"datum":28.5,"type":"quantitative","scale":{"domain":[-50,50],"range":[164.5,647],"nice":false,"zero":false},"axis":null},"y":{"datum":-5.043,"type":"quantitative","scale":{"domain":[-4,4],"range":[337,107],"nice":false,"zero":false},"axis":null}}},
{"data":{"values":[{}]},"mark":{"type":"text","text":"28 Apr 2016","fontSize":12,"color":"#1c1c1c","align":"left","baseline":"alphabetic"},"encoding":{"x":{"datum":42.33,"type":"quantitative","scale":{"domain":[-50,50],"range":[164.5,647],"nice":false,"zero":false},"axis":null},"y":{"datum":-4.539,"type":"quantitative","scale":{"domain":[-4,4],"range":[337,107],"nice":false,"zero":false},"axis":null}}},
{"data":{"values":[{}]},"mark":{"type":"text","text":"10:02:10","fontSize":12,"color":"#1c1c1c","align":"left","baseline":"alphabetic"},"encoding":{"x":{"datum":42.33,"type":"quantitative","scale":{"domain":[-50,50],"range":[164.5,647],"nice":false,"zero":false},"axis":null},"y":{"datum":-5.043,"type":"quantitative","scale":{"domain":[-4,4],"range":[337,107],"nice":false,"zero":false},"axis":null}}},

{"data":{"values":[{}]},"mark":{"type":"text","text":"CH1: GATE","fontSize":19,"fontWeight":"bold","color":"#0b2d6b","align":"left","baseline":"alphabetic","font":"Liberation Sans"},"encoding":{"x":{"datum":-81.29,"type":"quantitative","scale":{"domain":[-50,50],"range":[164.5,647],"nice":false,"zero":false},"axis":null},"y":{"datum":1.52,"type":"quantitative","scale":{"domain":[-4,4],"range":[337,107],"nice":false,"zero":false},"axis":null}}},
{"data":{"values":[{}]},"mark":{"type":"text","text":"CH2: V","fontSize":19,"fontWeight":"bold","color":"#1aaee6","align":"left","baseline":"alphabetic","font":"Liberation Sans"},"encoding":{"x":{"datum":-76.49,"type":"quantitative","scale":{"domain":[-50,50],"range":[164.5,647],"nice":false,"zero":false},"axis":null},"y":{"datum":-1.878,"type":"quantitative","scale":{"domain":[-4,4],"range":[337,107],"nice":false,"zero":false},"axis":null}}},
{"data":{"values":[{}]},"mark":{"type":"text","text":"DS","fontSize":12,"fontWeight":"bold","color":"#1aaee6","align":"left","baseline":"alphabetic","font":"Liberation Sans"},"encoding":{"x":{"datum":-63.51,"type":"quantitative","scale":{"domain":[-50,50],"range":[164.5,647],"nice":false,"zero":false},"axis":null},"y":{"datum":-2.017,"type":"quantitative","scale":{"domain":[-4,4],"range":[337,107],"nice":false,"zero":false},"axis":null}}},
{"data":{"values":[{}]},"mark":{"type":"text","text":"CH4: I","fontSize":19,"fontWeight":"bold","color":"#1aa64a","align":"left","baseline":"alphabetic","font":"Liberation Sans"},"encoding":{"x":{"datum":-72.69,"type":"quantitative","scale":{"domain":[-50,50],"range":[164.5,647],"nice":false,"zero":false},"axis":null},"y":{"datum":-3.99,"type":"quantitative","scale":{"domain":[-4,4],"range":[337,107],"nice":false,"zero":false},"axis":null}}},
{"data":{"values":[{}]},"mark":{"type":"text","text":"L","fontSize":12,"fontWeight":"bold","color":"#1aa64a","align":"left","baseline":"alphabetic","font":"Liberation Sans"},"encoding":{"x":{"datum":-61.3,"type":"quantitative","scale":{"domain":[-50,50],"range":[164.5,647],"nice":false,"zero":false},"axis":null},"y":{"datum":-4.129,"type":"quantitative","scale":{"domain":[-4,4],"range":[337,107],"nice":false,"zero":false},"axis":null}}}
]
}
